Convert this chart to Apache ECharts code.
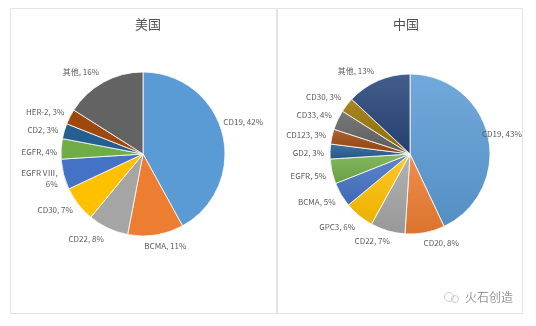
<!DOCTYPE html>
<html>
<head>
<meta charset="utf-8">
<script src="https://cdn.jsdelivr.net/npm/echarts@6/dist/echarts.min.js"></script>
<style>
  html, body { margin: 0; padding: 0; background: #ffffff; }
  #chart { width: 536px; height: 326px; }
</style>
</head>
<body>
<div id="chart"></div>
<script>
// 美国 CAR-T 靶点分布 (%)
const usNames = ['CD19', 'BCMA', 'CD22', 'CD30', 'EGFR VⅢ', 'EGFR', 'CD2', 'HER-2', '其他'];
const usValues = [42, 11, 8, 7, 6, 4, 3, 3, 16];
const usColors = ['#5B9BD5', '#ED7D31', '#A5A5A5', '#FFC000', '#4472C4', '#70AD47', '#255E91', '#9E480E', '#636363'];

// 中国 CAR-T 靶点分布 (%)
const cnNames = ['CD19', 'CD20', 'CD22', 'GPC3', 'BCMA', 'EGFR', 'GD2', 'CD123', 'CD33', 'CD30', '其他'];
const cnValues = [43, 8, 7, 6, 5, 5, 3, 3, 4, 3, 13];
const cnColors = ['#5B9BD5', '#ED7D31', '#A5A5A5', '#FFC000', '#4472C4', '#70AD47', '#255E91', '#9E480E', '#636363', '#997300', '#264478'];

const titles = ['美国', '中国'];
const FONT = '"Noto Sans CJK SC", "Noto Sans", sans-serif';

function mix(hex, target, t) {
  const c = parseInt(hex.slice(1), 16);
  const r = (c >> 16) & 255, g = (c >> 8) & 255, b = c & 255;
  const f = v => Math.round(v + (target - v) * t);
  return 'rgb(' + f(r) + ',' + f(g) + ',' + f(b) + ')';
}

function toData(names, values, colors, shaded) {
  return names.map((n, i) => {
    const color = shaded
      ? new echarts.graphic.LinearGradient(0, 0, 0, 1, [
          { offset: 0, color: mix(colors[i], 255, 0.14) },
          { offset: 1, color: mix(colors[i], 0, 0.08) }
        ])
      : colors[i];
    return { name: n, value: values[i], itemStyle: { color: color } };
  });
}

function labelText(p) {
  // long names wrap before the percentage
  return p.name.length > 6 ? p.name + ',\n' + p.value + '%' : p.name + ', ' + p.value + '%';
}

function pieSeries(data, center, radius, shifts) {
  return {
    type: 'pie',
    center: center,
    radius: radius,
    startAngle: 90,
    clockwise: true,
    avoidLabelOverlap: false,
    data: data,
    itemStyle: { borderColor: '#ffffff', borderWidth: 0.8 },
    label: {
      show: true,
      position: 'outside',
      formatter: labelText,
      color: '#595959',
      fontSize: 8,
      fontFamily: FONT,
      lineHeight: 11,
      distanceToLabelLine: 3
    },
    labelLine: { show: false, length: 3, length2: 0 },
    labelLayout: function (params) {
      const s = shifts[params.dataIndex];
      return s ? { dx: s[0], dy: s[1] } : {};
    },
    emphasis: { disabled: true }
  };
}

// per-label nudges [dx, dy], indexed like the data
const usShifts = [[-5, -11], [-15, 8], [0, 8], [0, 4], [0, 3], [2, 3], [0, 0], [0, -3], [0, -8]];
const cnShifts = [[-12, -2], [-5, 7], [6, 7], [1, 9], [0, 6], [0, 4], [0, 2], [0, -1], [0, -4], [0, -6], [0, -7]];

const chart = echarts.init(document.getElementById('chart'), null, { renderer: 'canvas' });
chart.setOption({
  animation: false,
  backgroundColor: '#ffffff',
  title: [
    { text: titles[0], left: 143, top: 13, textAlign: 'center',
      textStyle: { fontSize: 13, fontWeight: 'normal', color: '#505050', fontFamily: FONT } },
    { text: titles[1], left: 401, top: 13, textAlign: 'center',
      textStyle: { fontSize: 13, fontWeight: 'normal', color: '#505050', fontFamily: FONT } }
  ],
  graphic: [
    { type: 'rect', shape: { x: 10.5, y: 8.5, width: 266, height: 305 },
      style: { fill: 'none', stroke: '#e4e4e4', lineWidth: 1 }, silent: true },
    { type: 'rect', shape: { x: 277.5, y: 8.5, width: 245, height: 305 },
      style: { fill: 'none', stroke: '#e4e4e4', lineWidth: 1 }, silent: true },
    { type: 'circle', shape: { cx: 449, cy: 297, r: 4.5 },
      style: { fill: 'none', stroke: '#cccccc', lineWidth: 1 }, silent: true },
    { type: 'circle', shape: { cx: 455, cy: 299, r: 3.5 },
      style: { fill: 'none', stroke: '#cccccc', lineWidth: 1 }, silent: true },
    { type: 'text', left: 465, top: 291,
      style: { text: '火石创造', fontSize: 12, fill: '#999999', fontFamily: FONT }, silent: true }
  ],
  series: [
    pieSeries(toData(usNames, usValues, usColors, false), [143, 154], 82, usShifts),
    pieSeries(toData(cnNames, cnValues, cnColors, true), [410, 154], 80, cnShifts)
  ]
});
</script>
</body>
</html>
